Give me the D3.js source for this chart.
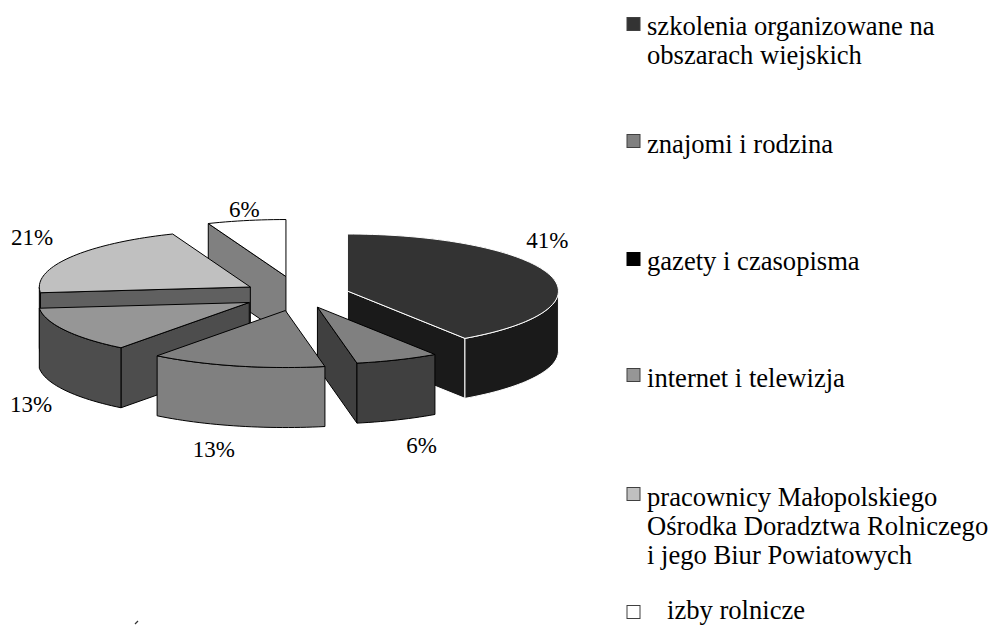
<!DOCTYPE html>
<html>
<head>
<meta charset="utf-8">
<script src="https://cdn.jsdelivr.net/npm/d3@7"></script>
<style>
  html, body { margin: 0; padding: 0; background: #fff; }
  text { font-family: "Liberation Serif", serif; fill: #000; }
</style>
</head>
<body>
<svg width="990" height="625"></svg>
<script>
const categories = [
    ['szkolenia organizowane na', 'obszarach wiejskich'],
    ['znajomi i rodzina'],
    ['gazety i czasopisma'],
    ['internet i telewizja'],
    ['pracownicy Małopolskiego', 'Ośrodka Doradztwa Rolniczego', 'i jego Biur Powiatowych'],
    ['izby rolnicze']
];
// the printed labels are rounded
const values = [40.6, 6.4, 13.4, 13, 20.6, 6];
const labels = ['41%', '6%', '13%', '13%', '21%', '6%'];

const topColors = ['#333333', '#808080', '#808080', '#969696', '#c0c0c0', '#ffffff'];
const sideColors = ['#1a1a1a', '#404040', '#808080', '#4d4d4d', '#606060', '#808080'];
const strokes = ['#ffffff', '#000000', '#000000', '#000000', '#000000', '#000000'];
const legendColors = ['#333333', '#808080', '#000000', '#969696', '#c0c0c0', '#ffffff'];

// how far each slice is pulled out of the pie, as a share of the radius
const explode = [0.24, 0.23, 0.28, 0.27, 0.27, 0.33];
// label offset from the middle of the slice's rim
const labelOffsets = [[-2, -26], [24, 93], [-23, 91], [-34, 82], [-38, -12], [-2, -4]];
const legendY = [17, 134, 252, 368, 487, 605];
const legendTextX = [647, 647, 647, 647, 647, 667];
const legendBaseline = [35, 153, 270, 387, 506, 619];
const drawOrder = [5, 4, 3, 0, 1, 2];

const cx = 299;
const cy = 295;
const rx = 211;
const ry = 57;
const depth = 60;

const svg = d3.select('svg');

const pie = d3.pie().sort(null).value(function(d) { return d; });
const slices = pie(values);

const rim = function(a) { return [rx * Math.sin(a), -ry * Math.cos(a)]; };
const line = d3.line();

function arcPoints(a0, a1, ox, oy) {
    const n = Math.max(2, Math.ceil((a1 - a0) / 0.03));
    return d3.range(n + 1).map(function(i) {
        const p = rim(a0 + (a1 - a0) * i / n);
        return [ox + p[0], oy + p[1]];
    });
}

function face(ox, oy, a) {
    const p = rim(a);
    return [[ox, oy], [ox + p[0], oy + p[1]], [ox + p[0], oy + p[1] + depth], [ox, oy + depth]];
}

const g = svg.append('g').attr('class', 'pie');

drawOrder.forEach(function(i) {
    const s = slices[i];
    const mid = rim((s.startAngle + s.endAngle) / 2);
    const ox = cx + explode[i] * mid[0];
    const oy = cy + explode[i] * mid[1];
    const slice = g.append('g')
        .attr('stroke', strokes[i])
        .attr('stroke-width', 1)
        .attr('stroke-linejoin', 'round');

    // cut faces that turn towards the viewer
    if (s.startAngle > Math.PI) {
        slice.append('path').attr('fill', sideColors[i]).attr('d', line(face(ox, oy, s.startAngle)) + 'Z');
    }
    if (s.endAngle < Math.PI) {
        slice.append('path').attr('fill', sideColors[i]).attr('d', line(face(ox, oy, s.endAngle)) + 'Z');
    }

    // outer wall, only the front half of the rim shows
    const a0 = Math.max(s.startAngle, Math.PI / 2);
    const a1 = Math.min(s.endAngle, Math.PI * 1.5);
    if (a1 > a0) {
        const upper = arcPoints(a0, a1, ox, oy);
        const lower = arcPoints(a0, a1, ox, oy + depth).reverse();
        slice.append('path').attr('fill', sideColors[i]).attr('d', line(upper.concat(lower)) + 'Z');
    }

    // top
    const top = [[ox, oy]].concat(arcPoints(s.startAngle, s.endAngle, ox, oy));
    slice.append('path').attr('fill', topColors[i]).attr('d', line(top) + 'Z');

    svg.append('text')
        .attr('class', 'value')
        .attr('x', ox + mid[0] + labelOffsets[i][0])
        .attr('y', oy + mid[1] + labelOffsets[i][1])
        .attr('text-anchor', 'middle')
        .attr('font-size', 23)
        .text(labels[i]);
});

const legend = svg.append('g').attr('class', 'legend');

categories.forEach(function(lines, i) {
    legend.append('rect')
        .attr('x', 627)
        .attr('y', legendY[i] + 0.5)
        .attr('width', 13)
        .attr('height', 13)
        .attr('fill', legendColors[i])
        .attr('stroke', i === 2 ? '#000' : '#404040');
    lines.forEach(function(t, j) {
        legend.append('text')
            .attr('x', legendTextX[i])
            .attr('y', legendBaseline[i] + j * 29)
            .attr('font-size', 26.6)
            .text(t);
    });
});

// stray tick left at the foot of the page
svg.append('path').attr('d', 'M135,624L138,621').attr('stroke', '#333').attr('stroke-width', 1.2);
</script>
</body>
</html>
